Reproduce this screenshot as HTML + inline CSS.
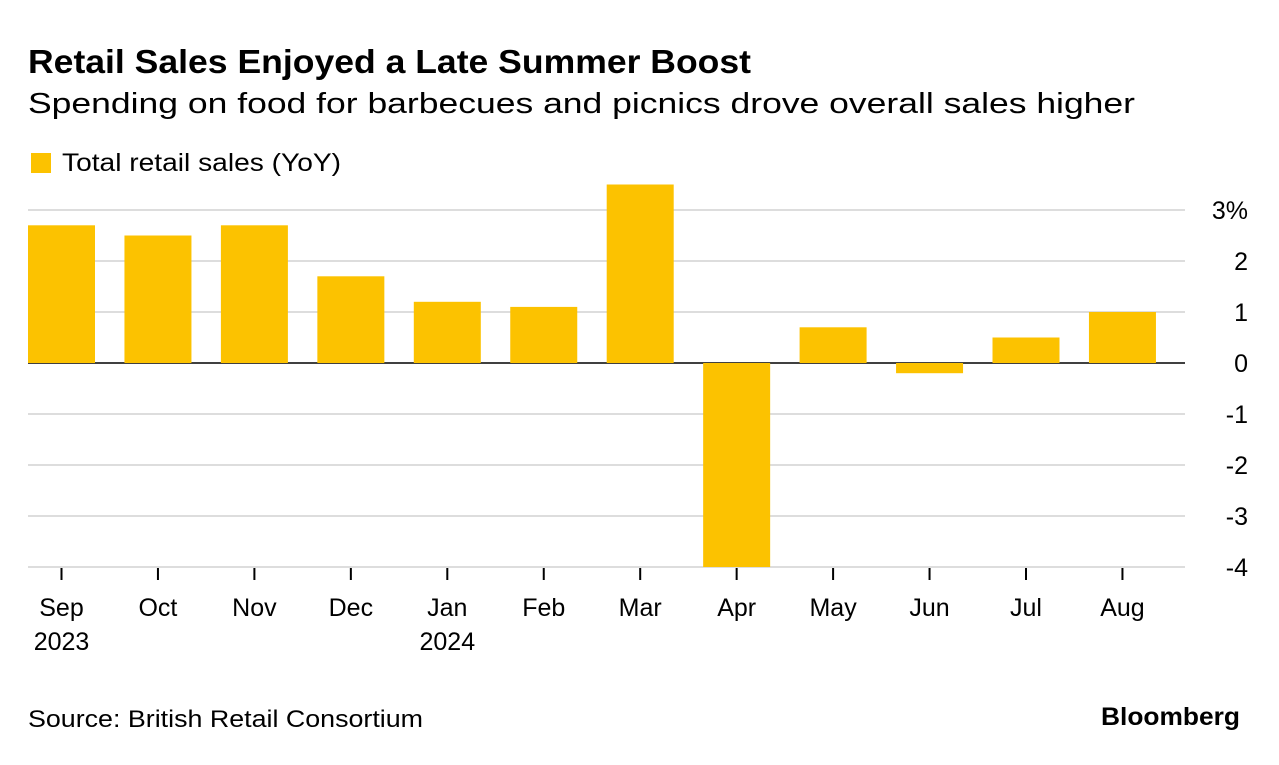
<!DOCTYPE html>
<html><head><meta charset="utf-8"><style>
body{margin:0;background:#fff;font-family:"Liberation Sans",sans-serif;}
svg text{font-family:"Liberation Sans",sans-serif;}
</style></head><body>
<svg width="1279" height="760">
<text x="28" y="73" font-size="33" font-weight="bold" fill="#000" textLength="723" lengthAdjust="spacingAndGlyphs">Retail Sales Enjoyed a Late Summer Boost</text>
<text x="28" y="113" font-size="29" fill="#000" textLength="1107" lengthAdjust="spacingAndGlyphs">Spending on food for barbecues and picnics drove overall sales higher</text>
<rect x="31" y="153" width="20" height="20" fill="#fcc200"/>
<text x="62" y="171" font-size="25" fill="#000" textLength="279" lengthAdjust="spacingAndGlyphs">Total retail sales (YoY)</text>
<g id="grid"></g><g id="bars"></g><g id="axis"></g>
<text x="28" y="727" font-size="24" fill="#000" textLength="395" lengthAdjust="spacingAndGlyphs">Source: British Retail Consortium</text>
<text x="1240" y="725" font-size="25" font-weight="bold" fill="#000" text-anchor="end" textLength="139" lengthAdjust="spacingAndGlyphs">Bloomberg</text>
</svg>
<script>
const months=["Sep","Oct","Nov","Dec","Jan","Feb","Mar","Apr","May","Jun","Jul","Aug"];
const years=["2023","","","","2024","","","","","","",""];
const values=[2.7,2.5,2.7,1.7,1.2,1.1,3.5,-4.0,0.7,-0.2,0.5,1.0];
const yTicks=[3,2,1,0,-1,-2,-3,-4];
const yLabels=["3%","2","1","0","-1","-2","-3","-4"];
const NS="http://www.w3.org/2000/svg";
const y=v=>363-v*51;
const x=i=>61.5+i*96.45;
function mk(t,a,p){const e=document.createElementNS(NS,t);for(const k in a)e.setAttribute(k,a[k]);document.getElementById(p).appendChild(e);return e;}
yTicks.forEach((v,i)=>{
 const l=mk("line",{x1:28,x2:1185,y1:y(v),y2:y(v),stroke:v===0?"#000":"#ddd","stroke-width":v===0?1.5:2},"grid");
 
 
 const t=mk("text",{x:1248,y:y(v)+9,"font-size":25,"text-anchor":"end",fill:"#000"},"axis");
 t.textContent=yLabels[i];
 
 
});
values.forEach((v,i)=>{
 const r=mk("rect",{x:x(i)-33.5,y:Math.min(y(v),y(0)),width:67,height:Math.abs(y(v)-y(0)),fill:"#fcc200"},"bars");
 
 
 const tk=mk("line",{x1:x(i),x2:x(i),y1:568,y2:580,stroke:"#000","stroke-width":2},"axis");
 
 
 const t=mk("text",{x:x(i),y:616,"font-size":25,"text-anchor":"middle",fill:"#000"},"axis");
 t.textContent=months[i];
 
 
 if(years[i]){const yt=mk("text",{x:x(i),y:650,"font-size":25,"text-anchor":"middle",fill:"#000"},"axis");
 yt.textContent=years[i];
 
 }
});
</script>
</body></html>
